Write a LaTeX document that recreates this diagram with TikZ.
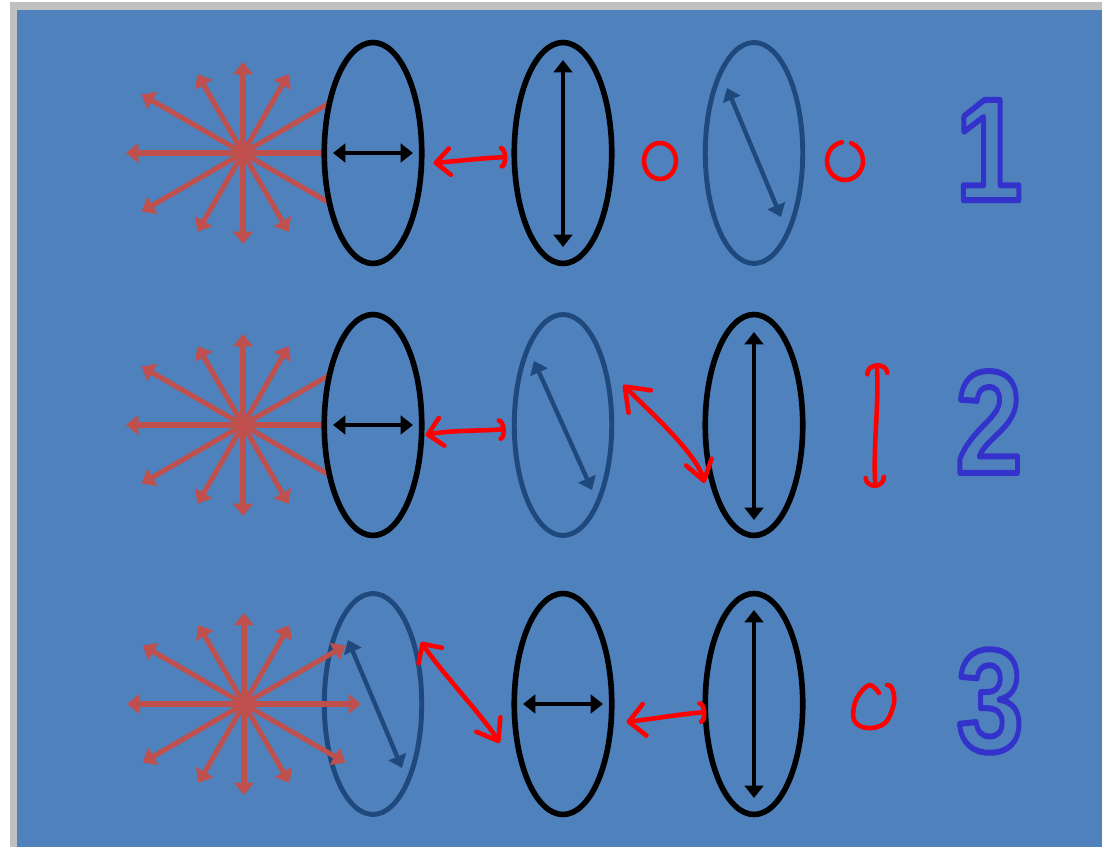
\documentclass[tikz,border=0pt]{standalone}
\usepackage{fontspec}
\setmainfont{Liberation Sans}
\usetikzlibrary{arrows.meta,positioning,shapes.geometric}
\definecolor{slideblue}{RGB}{79,129,189}
\definecolor{rimgray}{RGB}{192,192,192}
\definecolor{rayred}{RGB}{192,80,77}
\definecolor{ovalblue}{RGB}{31,73,125}
\definecolor{inkred}{RGB}{255,0,0}
\definecolor{digitblue}{RGB}{51,51,204}
% outlined (stroked, not filled) digit
\newcommand{\hollowdigit}[1]{\special{pdf:literal direct 1 Tr 3.4 w 1 j 0.2 0.2 0.8 RG}#1\special{pdf:literal direct 0 Tr}}
\newcommand{\sunburst}[1]{%
  \foreach \a/\r in {0/117,30/117,60/91,90/91,120/91,150/117,180/117,210/117,240/91,270/91,300/91,330/117}
    \draw[starray] (#1) -- ++(\a:\r);}

\begin{document}
\begin{tikzpicture}[x=0.02cm, y=-0.02cm,
  oval/.style={ellipse, inner sep=0pt, minimum width=1.95cm, minimum height=4.42cm, fill=slideblue},
  blackoval/.style={oval, draw=black, line width=3.2pt},
  blueoval/.style={oval, draw=ovalblue, line width=2.8pt},
  starray/.style={draw=rayred, line width=2.9pt, -{Triangle[length=7pt,width=11pt]}},
  axisarrow/.style={line width=2.5pt, {Triangle[length=7pt,width=10.5pt]}-{Triangle[length=7pt,width=10.5pt]}},
  ink/.style={draw=inkred, line width=2.6pt, line cap=round, line join=round},
  rownumber/.style={inner sep=0pt, text=digitblue, font=\fontsize{83}{90}\selectfont\bfseries}]
% Slide background
\fill[white] (0,0) rectangle (1102,847);
\useasboundingbox (0,0) rectangle (1102,847);
\fill[rimgray] (10,2) rectangle (1102,847);
\fill[slideblue] (17,10) rectangle (1102,847);

% Row 1
\coordinate (sa) at (243,153);
\sunburst{sa}
\node[blackoval] (a1) at (373,153) {};
\node[blackoval] (a2) at (563,153) {};
\node[blueoval] (a3) at (754,153) {};
\draw[axisarrow] ([shift={(-40,0)}]a1.center) -- ([shift={(40,0)}]a1.center);
\draw[axisarrow] ([shift={(0,-93)}]a2.center) -- ([shift={(0,94)}]a2.center);
\draw[axisarrow, ovalblue] ([shift={(-27,-65)}]a3.center) -- ([shift={(27,64)}]a3.center);
\draw[ink, {Straight Barb[length=8pt,width=15pt,round]}-{Arc Barb[length=3.5pt,width=13pt,round]}]
  ([shift={(9,10)}]a1.east) .. controls +(25,-2) and +(-25,1) .. ([shift={(-4,4)}]a2.west);
\draw[ink] (660,161) ellipse [x radius=16, y radius=18];
\draw[ink] (845,161) ++(-100:18 and 19) arc [start angle=-100, end angle=-430, x radius=18, y radius=19];
\node[rownumber] (na) at (989,150) {\scalebox{0.82}[1]{\hollowdigit{1}}};

% Row 2
\coordinate (sb) at (243,425);
\sunburst{sb}
\node[blackoval] (b1) at (373,425) {};
\node[blueoval] (b2) at (563,425) {};
\node[blackoval] (b3) at (754,425) {};
\draw[axisarrow] ([shift={(-40,0)}]b1.center) -- ([shift={(40,0)}]b1.center);
\draw[axisarrow, ovalblue] ([shift={(-29,-64)}]b2.center) -- ([shift={(29,65)}]b2.center);
\draw[axisarrow] ([shift={(0,-93)}]b3.center) -- ([shift={(0,95)}]b3.center);
\draw[ink, {Straight Barb[length=8pt,width=16pt,round]}-{Arc Barb[length=3.5pt,width=13pt,round]}]
  ([shift={(1,10)}]b1.east) .. controls +(25,-5) and +(-20,2) .. ([shift={(-6,4)}]b2.west);
\draw[ink, {Straight Barb[length=12pt,width=18pt,round]}-{Straight Barb[length=11pt,width=15pt,round]}]
  ([shift={(9,-40)}]b2.east) .. controls +(25,25) and +(-8,-30) .. ([shift={(2,58)}]b3.west);
\draw[ink, {Arc Barb[length=6pt,width=14pt,round]}-{Arc Barb[length=6pt,width=13pt,round]}]
  ([shift={(71,-62)}]b3.east) .. controls +(3,40) and +(-3,-40) .. ([shift={(70,63)}]b3.east);
\node[rownumber] (nb) at (989,422) {\scalebox{0.82}[1]{\hollowdigit{2}}};

% Row 3
\node[blueoval] (c1) at (373,704) {};
\coordinate (sc) at (244,704);
\sunburst{sc}
\draw[axisarrow, ovalblue] ([shift={(-25,-64)}]c1.center) -- ([shift={(29,64)}]c1.center);
\node[blackoval] (c2) at (563,704) {};
\node[blackoval] (c3) at (754,704) {};
\draw[axisarrow] ([shift={(-40,0)}]c2.center) -- ([shift={(40,0)}]c2.center);
\draw[axisarrow] ([shift={(0,-94)}]c3.center) -- ([shift={(0,94)}]c3.center);
\draw[ink, {Straight Barb[length=8pt,width=16pt,round]}-{Straight Barb[length=11pt,width=16pt,round]}]
  ([shift={(-3,-62)}]c1.east) .. controls +(20,30) and +(-15,-25) .. ([shift={(-12,39)}]c2.west);
\draw[ink, {Straight Barb[length=9pt,width=18pt,round]}-{Arc Barb[length=3.5pt,width=13pt,round]}]
  ([shift={(12,18)}]c2.east) .. controls +(25,-3) and +(-25,2) .. ([shift={(4,8)}]c3.west);
\draw[ink] plot[smooth, tension=0.6] coordinates {(879,693) (869,685) (856,700) (854,720) (867,728) (885,723) (894,703) (892,688) (887,685)};
\node[rownumber] (nc) at (990,701) {\scalebox{0.82}[1]{\hollowdigit{3}}};
\end{tikzpicture}
\end{document}
